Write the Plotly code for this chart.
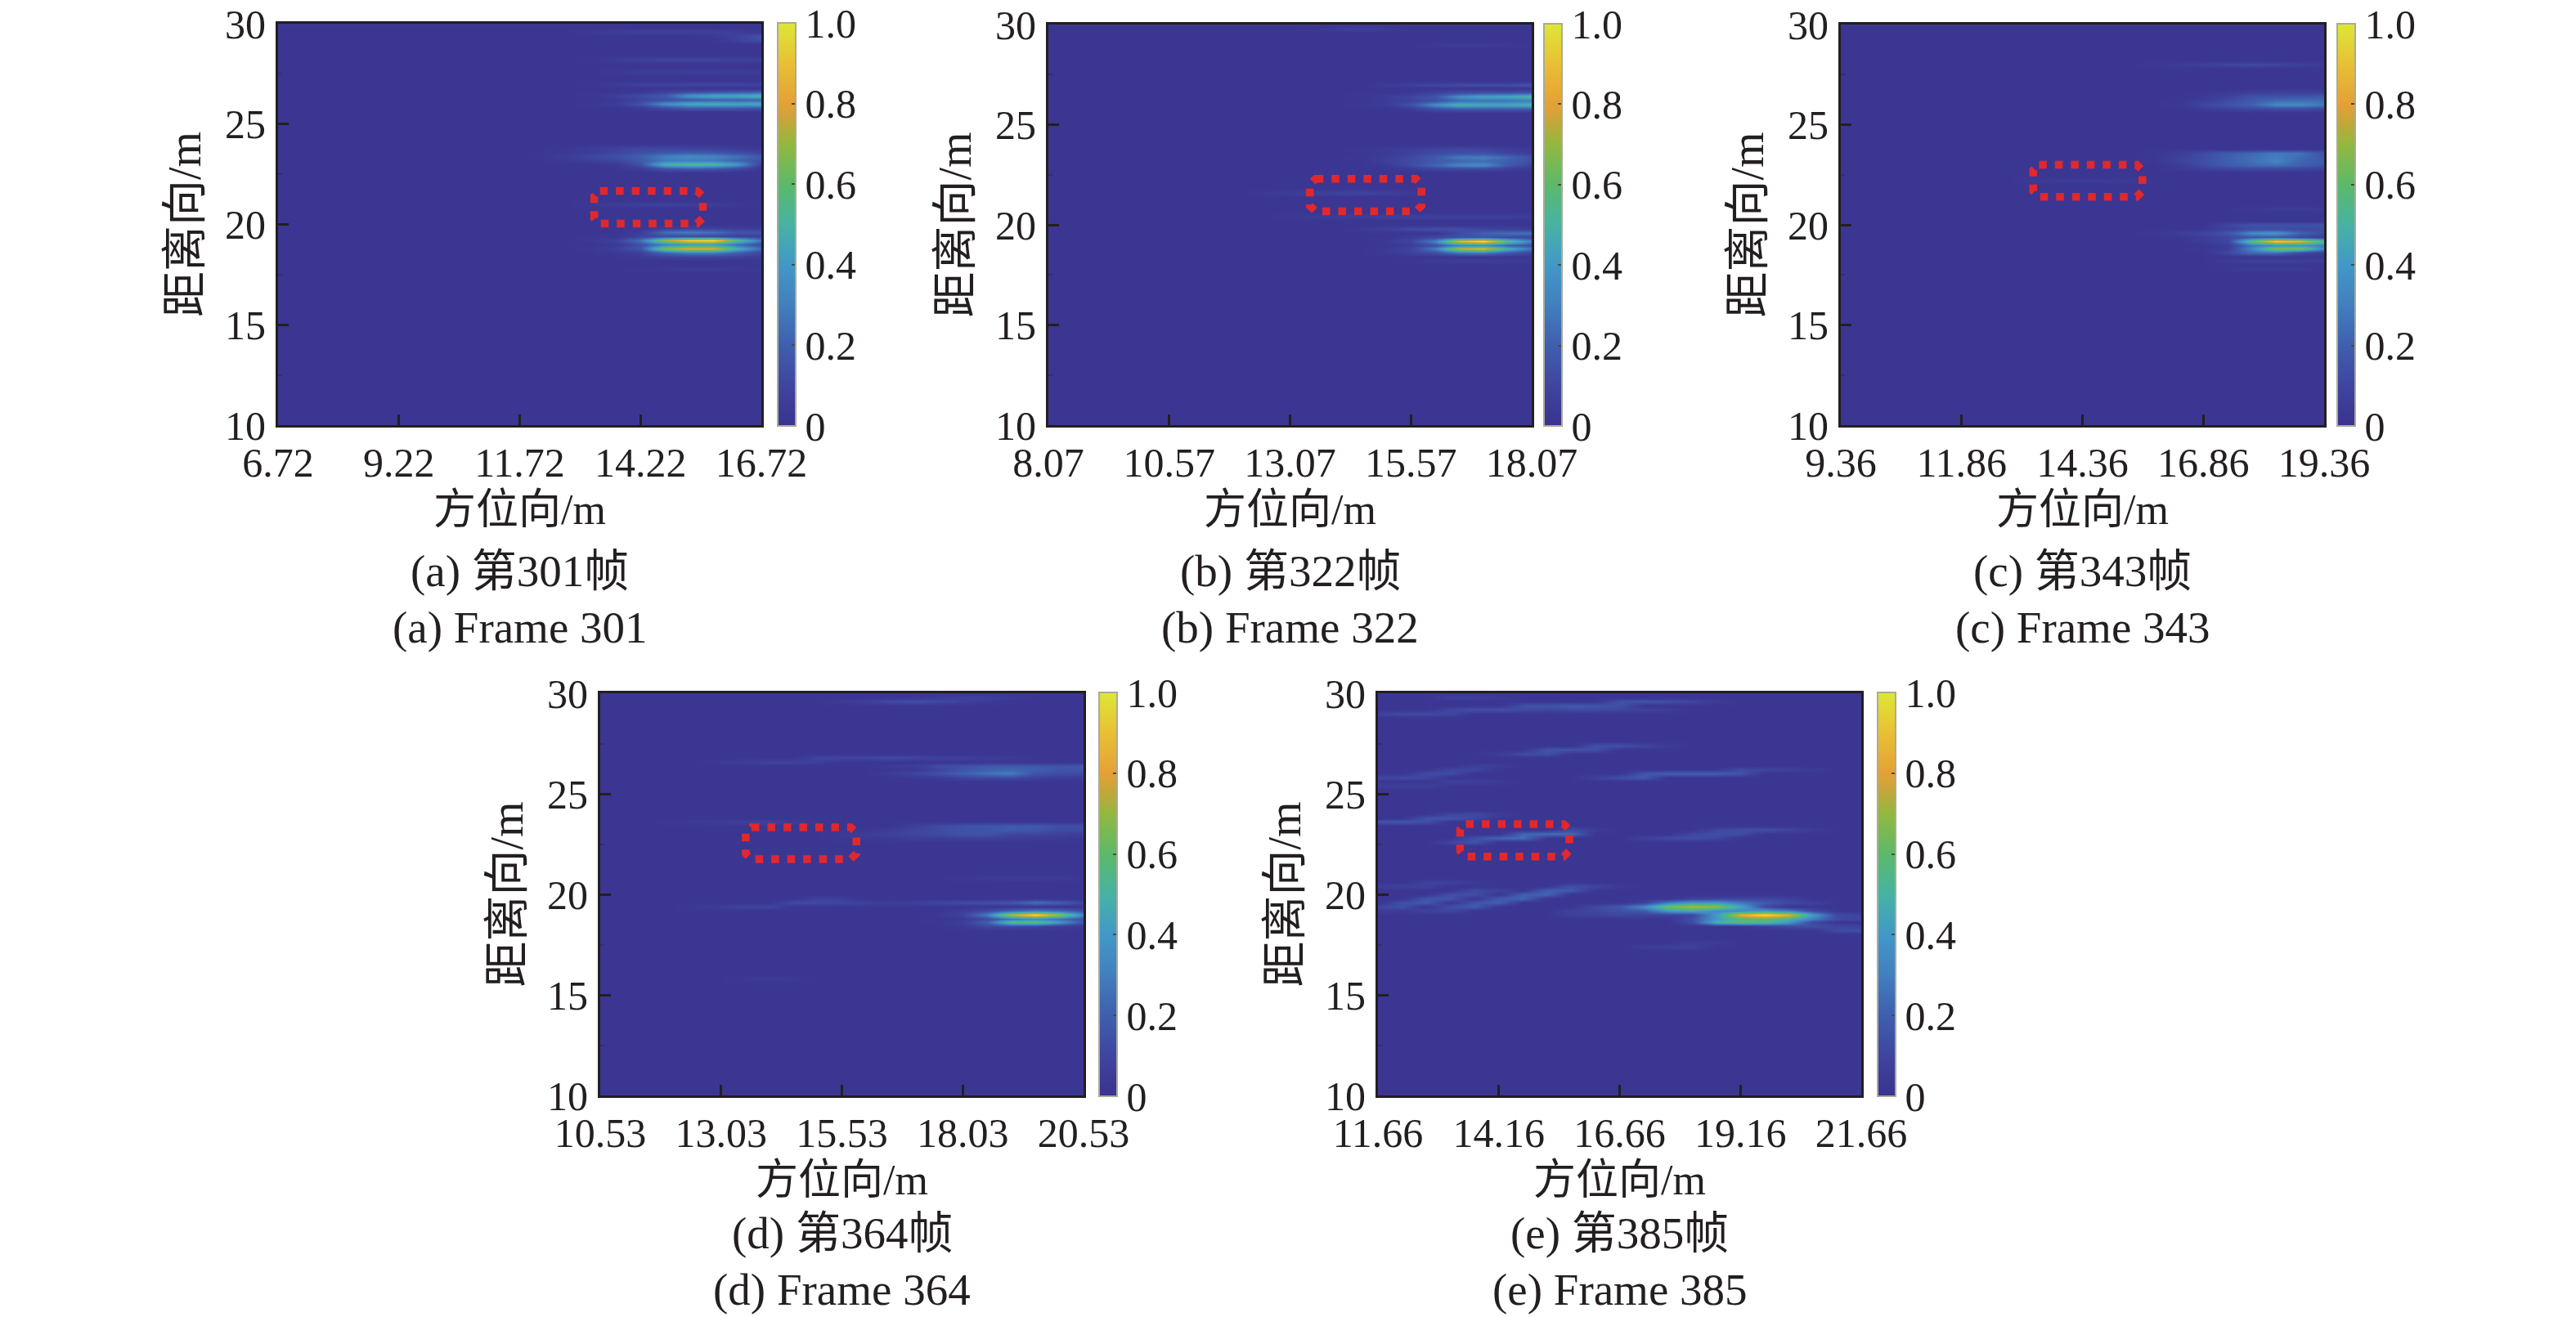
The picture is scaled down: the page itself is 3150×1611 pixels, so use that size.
import plotly.graph_objects as go

# Frame data: y (m) -> (first column, values in hundredths). Columns are 0.5 m apart.
frame_301 = {
    29.6: (13, [4, 6, 8, 8, 8, 8, 6, 4]),
    29.4: (18, [4, 8, 16]),
    29.2: (19, [8, 14]),
    28.2: (13, [3, 6, 9, 10, 10, 10, 9, 8]),
    27.6: (14, [3, 6, 6, 7, 7, 6, 5]),
    27.0: (13, [3, 5, 8, 8, 9, 9, 9, 8]),
    26.6: (15, [4, 8, 12, 14, 16, 18]),
    26.4: (13, [3, 7, 12, 18, 38, 46, 46, 52]),
    26.2: (14, [4, 9, 14, 18, 20, 20, 22]),
    26.0: (13, [3, 6, 15, 36, 46, 48, 46, 46]),
    25.8: (15, [5, 12, 18, 18, 18, 16]),
    23.8: (12, [3, 6, 8, 10, 10, 9, 8, 6, 3]),
    23.6: (12, [4, 6, 10, 14, 16, 18, 16, 12, 8]),
    23.4: (11, [3, 6, 10, 14, 20, 30, 35, 32, 26, 18]),
    23.2: (12, [4, 8, 10, 18, 28, 30, 28, 22, 14]),
    23.0: (14, [4, 14, 50, 54, 54, 40, 8]),
    22.8: (15, [6, 16, 20, 18, 12, 4]),
    21.0: (13, [4, 6, 7, 8, 7, 6, 4]),
    19.8: (16, [5, 8, 8, 6, 6]),
    19.6: (15, [6, 25, 30, 26, 16, 15]),
    19.4: (14, [3, 8, 12, 12, 10, 8, 8]),
    19.2: (13, [4, 8, 26, 72, 96, 100, 58, 26]),
    19.0: (14, [4, 14, 30, 40, 40, 24, 12]),
    18.8: (13, [3, 8, 16, 66, 82, 82, 50, 22]),
    18.6: (14, [4, 8, 22, 30, 30, 20, 10]),
    18.4: (15, [4, 8, 9, 9, 8, 5]),
    17.8: (15, [3, 4, 5, 5, 4, 3]),
}
frame_322 = {
    29.8: (11, [3, 6, 8, 5]),
    29.0: (16, [4, 6, 5, 4]),
    27.0: (14, [5, 8, 10, 12, 13, 13, 15]),
    26.6: (15, [4, 8, 12, 14, 14, 16]),
    26.4: (13, [3, 6, 10, 16, 36, 44, 46, 52]),
    26.2: (14, [5, 9, 14, 24, 26, 26, 30]),
    26.0: (13, [3, 6, 14, 36, 50, 46, 46, 50]),
    25.8: (15, [5, 14, 18, 18, 18, 18]),
    23.8: (13, [3, 5, 7, 9, 10, 9, 6, 4]),
    23.6: (14, [5, 8, 12, 14, 14, 10, 6]),
    23.4: (13, [3, 6, 11, 18, 28, 30, 22, 14]),
    23.2: (14, [7, 12, 18, 22, 25, 20, 14]),
    23.0: (14, [4, 12, 22, 33, 35, 18, 8]),
    22.8: (15, [6, 10, 12, 12, 8, 4]),
    21.6: (9, [4, 6, 8, 9, 10, 8, 4]),
    20.4: (10, [3, 5, 6, 7, 8, 8, 8, 8, 8, 8, 6]),
    19.8: (13, [4, 8, 12, 14, 14, 10, 8, 6]),
    19.6: (17, [12, 20, 25, 26]),
    19.4: (15, [6, 10, 14, 16, 12, 10]),
    19.2: (14, [4, 10, 32, 86, 100, 60, 30]),
    19.0: (15, [6, 14, 30, 34, 20, 14]),
    18.8: (14, [4, 9, 30, 76, 86, 50, 26]),
    18.6: (14, [4, 8, 14, 28, 30, 18, 10]),
    18.2: (15, [3, 5, 6, 6, 5, 4]),
}
frame_343 = {
    28.0: (13, [3, 5, 8, 10, 12, 10, 8, 5]),
    26.6: (16, [5, 7, 8, 8, 8]),
    26.4: (15, [4, 8, 15, 15, 16, 18]),
    26.2: (14, [3, 6, 12, 18, 24, 25, 24]),
    26.0: (14, [3, 10, 16, 20, 34, 34, 28]),
    25.8: (15, [5, 8, 10, 12, 12, 10]),
    23.6: (13, [3, 6, 12, 18, 22, 28, 26, 15]),
    23.4: (13, [3, 7, 13, 20, 25, 30, 24, 16]),
    23.2: (13, [3, 8, 14, 20, 25, 32, 22, 18]),
    23.0: (14, [5, 12, 18, 22, 25, 20, 15]),
    22.8: (14, [4, 8, 10, 12, 12, 10, 8]),
    22.2: (8, [4, 6, 6, 6, 4]),
    20.8: (17, [3, 5, 5, 4]),
    20.0: (16, [10, 15, 15, 15, 15]),
    19.8: (15, [3, 8, 12, 12, 12, 12]),
    19.6: (13, [3, 6, 10, 16, 35, 40, 22, 12]),
    19.4: (14, [3, 6, 10, 16, 18, 10, 6]),
    19.2: (15, [5, 10, 60, 96, 86, 56]),
    19.0: (16, [6, 26, 36, 38, 28]),
    18.8: (15, [3, 6, 32, 68, 66, 32]),
    18.6: (16, [10, 24, 26, 12, 6]),
    18.2: (16, [5, 8, 8, 7, 7]),
    17.8: (16, [3, 5, 5, 5]),
}
frame_364 = {
    29.8: (14, [6, 8, 8, 5]),
    29.6: (10, [5, 8, 12, 14, 12, 8, 4]),
    26.8: (9, [10, 10, 10, 12, 10, 8, 8, 6, 5]),
    26.6: (5, [4, 7, 9, 9, 7]),
    26.4: (12, [5, 6, 12, 15, 18, 18, 18, 16, 18]),
    26.2: (13, [3, 10, 16, 20, 22, 20, 16, 16]),
    26.0: (12, [6, 10, 14, 20, 26, 30, 15, 13, 12]),
    25.8: (13, [4, 6, 10, 12, 12, 8, 6, 6]),
    23.6: (3, [3, 5, 6, 8, 8, 5]),
    23.4: (13, [6, 12, 15, 16, 18, 18, 14, 14]),
    23.2: (12, [6, 10, 12, 15, 16, 18, 16, 12, 12]),
    23.0: (10, [4, 6, 8, 10, 12, 15, 15, 10, 10, 8, 6]),
    22.8: (10, [3, 4, 5, 6, 6, 8, 8, 6, 5, 4, 3]),
    20.8: (15, [3, 5, 6, 6, 5, 3]),
    19.8: (9, [8, 6]),
    19.6: (8, [12, 12, 10, 8, 6, 8, 10, 12, 14, 16, 26, 20, 10]),
    19.4: (4, [4, 6, 10, 10]),
    19.2: (15, [6, 12, 22, 30, 24, 14]),
    19.0: (14, [4, 8, 30, 76, 100, 72, 32]),
    18.8: (15, [4, 12, 28, 34, 26, 14]),
    18.6: (14, [3, 6, 20, 56, 60, 40, 15]),
    18.4: (15, [4, 10, 12, 10, 5, 3]),
    15.8: (6, [4, 5, 4]),
}
frame_385 = {
    29.8: (3, [8, 8, 5]),
    29.6: (10, [15, 16, 14, 10, 5]),
    29.4: (6, [14, 16, 18, 16, 14]),
    29.2: (3, [10, 14, 14, 12, 10, 12, 12, 10, 8, 6]),
    29.0: (0, [8, 12, 12, 10]),
    27.4: (9, [14, 14, 10, 5]),
    27.2: (7, [16, 16, 14]),
    27.0: (5, [5, 12, 14]),
    26.4: (4, [8, 6]),
    26.2: (3, [10, 10, 0, 0, 0, 0, 0, 0, 0, 0, 0, 0, 12, 10, 8, 5]),
    26.0: (2, [12, 12, 0, 0, 0, 0, 0, 0, 0, 16, 20, 20, 20, 16]),
    25.8: (0, [10, 12, 10, 0, 0, 0, 0, 0, 0, 8, 14, 18]),
    25.6: (3, [8, 8, 5]),
    25.4: (0, [6, 8, 8]),
    24.0: (3, [10, 12, 6]),
    23.8: (2, [16, 16, 10]),
    23.6: (0, [16, 18, 14]),
    23.2: (8, [12, 6, 0, 0, 0, 0, 10, 14, 14, 10, 5]),
    23.0: (6, [22, 25, 24, 0, 0, 0, 0, 10, 14, 12]),
    22.8: (4, [14, 22, 25, 0, 0, 0, 0, 8, 12, 14, 10]),
    22.6: (3, [10, 16]),
    20.6: (2, [8, 8, 4]),
    20.4: (0, [6, 8, 8, 0, 0, 0, 0, 0, 14, 10, 4]),
    20.2: (4, [12, 8, 0, 20, 18]),
    20.0: (3, [14, 14, 0, 20, 22]),
    19.8: (2, [16, 16, 0, 18, 22, 0, 0, 0, 0, 0, 0, 8, 10, 10, 10, 8]),
    19.6: (1, [14, 18, 0, 16, 20, 0, 0, 0, 0, 0, 8, 30, 40, 40, 28, 18, 12, 8]),
    19.4: (0, [10, 14, 0, 14, 18, 0, 0, 0, 0, 12, 18, 35, 65, 75, 70, 45, 12]),
    19.2: (0, [6, 5, 8, 10, 0, 0, 0, 0, 8, 10, 14, 18, 40, 45, 35, 35, 40, 30, 12]),
    19.0: (8, [8, 8, 10, 8, 8, 10, 40, 85, 100, 85, 40, 12, 8]),
    18.8: (13, [14, 40, 55, 60, 50, 30, 12, 10]),
    18.6: (13, [12, 50, 60, 55, 40, 10]),
    18.4: (16, [6, 12, 14, 10, 8]),
    18.2: (19, [12, 14]),
    17.6: (13, [6, 5]),
    17.4: (11, [6, 8, 8]),
}

frames = [frame_301, frame_322, frame_343, frame_364, frame_385]
x_starts = [6.72, 8.07, 9.36, 10.53, 11.66]
x_ticks = [
    [6.72, 9.22, 11.72, 14.22, 16.72],
    [8.07, 10.57, 13.07, 15.57, 18.07],
    [9.36, 11.86, 14.36, 16.86, 19.36],
    [10.53, 13.03, 15.53, 18.03, 20.53],
    [11.66, 14.16, 16.66, 19.16, 21.66],
]
y_ticks = [10, 15, 20, 25, 30]
cb_vals = [0, 0.2, 0.4, 0.6, 0.8, 1.0]
cb_text = ["0", "0.2", "0.4", "0.6", "0.8", "1.0"]
captions_cn = ["(a) 第301帧", "(b) 第322帧", "(c) 第343帧", "(d) 第364帧", "(e) 第385帧"]
captions_en = ["(a) Frame 301", "(b) Frame 322", "(c) Frame 343", "(d) Frame 364", "(e) Frame 385"]
# red boxes: left, right, bottom, top in metres
boxes = [
    [13.26, 15.51, 20.04, 21.67],
    [13.48, 15.79, 20.67, 22.30],
    [13.34, 15.60, 21.40, 23.00],
    [13.54, 15.83, 21.75, 23.33],
    [13.36, 15.62, 21.88, 23.50],
]

# layout in pixels
W, H = 3150, 1611
panels = [  # left, right, top, bottom, colorbar left
    (340, 931, 29, 520, 951),
    (1282, 1873, 30, 520, 1888),
    (2251, 2842, 30, 520, 2858),
    (734, 1325, 848, 1340, 1344),
    (1685, 2276, 848, 1340, 2296),
]
FONT = "Liberation Serif, Noto Sans CJK SC"
INK = "#231f20"
COLORS = [
    [0.0, "#3a3391"], [0.03, "#3b3893"], [0.1, "#3f45a0"], [0.2, "#3f5fae"],
    [0.3, "#427fbe"], [0.4, "#4298c8"], [0.5, "#46b3a3"], [0.6, "#5cb96a"],
    [0.7, "#93b83f"], [0.75, "#c0a83a"], [0.8, "#e5a037"], [0.9, "#e8c035"],
    [1.0, "#dde736"],
]

y_rows = [round(10 + 0.2 * i, 1) for i in range(101)]
fig = go.Figure()
shapes, annotations = [], []
layout = {}

for k, (rows, x0, ticks, box, (l, r, t, b, cb)) in enumerate(zip(frames, x_starts, x_ticks, boxes, panels)):
    n = "" if k == 0 else str(k + 1)
    x_cols = [round(x0 + 0.5 * i, 2) for i in range(21)]
    z = []
    for y in y_rows:
        row = [0.02] * 21
        if y in rows:
            start, vals = rows[y]
            for i, v in enumerate(vals):
                row[start + i] = max(v / 100, 0.02)
        z.append(row)
    fig.add_trace(go.Heatmap(
        x=x_cols, y=y_rows, z=z, zmin=0, zmax=1, zsmooth="best", colorscale=COLORS,
        xaxis="x" + n, yaxis="y" + n,
        colorbar=dict(
            x=cb / W, xanchor="left", xpad=0, ypad=0,
            y=1 - (t - 1) / H, yanchor="top", lenmode="pixels", len=b - t + 2,
            thickness=22, thicknessmode="pixels",
            tickmode="array", tickvals=cb_vals, ticktext=cb_text,
            ticks="inside", ticklen=6, tickwidth=1.5, tickcolor="#4a4a40",
            outlinecolor="#a9ab98", outlinewidth=2,
            tickfont=dict(family=FONT, size=50, color=INK),
        ),
    ))
    common = dict(showgrid=False, zeroline=False, showline=True, mirror=True,
                  linecolor=INK, linewidth=3, ticks="inside", ticklen=13, tickwidth=3,
                  tickcolor=INK, tickfont=dict(family=FONT, size=50, color=INK))
    layout["xaxis" + n] = dict(
        common, domain=[l / W, r / W], anchor="y" + n, range=[ticks[0], ticks[-1]],
        tickmode="array", tickvals=ticks, ticktext=[f"{v:.2f}" for v in ticks],
        title=dict(text="方位向/m", font=dict(family=FONT, size=52, color=INK), standoff=12),
    )
    layout["yaxis" + n] = dict(
        common, domain=[1 - b / H, 1 - t / H], anchor="x" + n, range=[10, 30],
        tickmode="array", tickvals=y_ticks, ticktext=[str(v) for v in y_ticks],
        ticklabelstandoff=2,
        minor=dict(ticks="inside", ticklen=5, tickwidth=1.5, tickcolor="rgba(35,31,32,0.3)",
                   tick0=12.5, dtick=5),
        title=dict(text="距离向/m", font=dict(family=FONT, size=56, color=INK), standoff=12),
    )
    bl, br, bb, bt = box
    cx, cy = 0.12, 0.28
    xr, yr = "x" + n, "y" + n
    shapes.append(dict(
        type="path", xref=xr, yref=yr, layer="above",
        path=(f"M {bl + cx} {bt} L {br - cx} {bt} L {br} {bt - cy} L {br} {bb + cy} "
              f"L {br - cx} {bb} L {bl + cx} {bb} L {bl} {bb + cy} L {bl} {bt - cy} Z"),
        line=dict(color="#e1282c", width=9.5, dash="9.5px,10px"),
    ))
    cap_y = (699, 768) if k < 3 else (1508, 1577)
    for txt, py in zip((captions_cn[k], captions_en[k]), cap_y):
        annotations.append(dict(
            text=txt, xref="paper", yref="paper", x=(l + r) / 2 / W, y=1 - py / H,
            xanchor="center", yanchor="middle", showarrow=False,
            font=dict(family=FONT, size=55, color=INK),
        ))

fig.update_layout(
    width=W, height=H, margin=dict(l=0, r=0, t=0, b=0, autoexpand=False), autosize=False,
    paper_bgcolor="white", plot_bgcolor="white", showlegend=False,
    shapes=shapes, annotations=annotations, **layout,
)
fig.write_html("out.html", post_script="document.body.style.margin='0';",
               config={"displayModeBar": False})
